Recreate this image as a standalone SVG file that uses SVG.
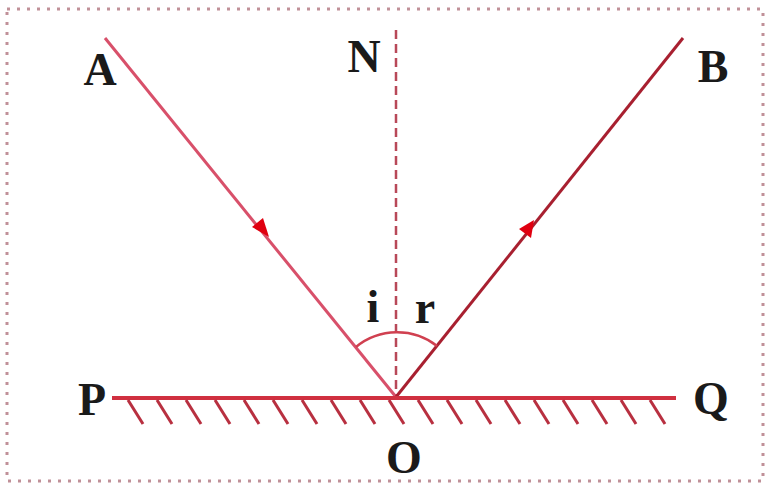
<svg xmlns="http://www.w3.org/2000/svg" width="765" height="486" viewBox="0 0 765 486">
<style>
.lbl{font-family:"Liberation Serif","Times New Roman",serif;font-weight:bold;font-size:46px;fill:#1a1a1a;text-anchor:middle}
.ray{stroke-width:3;fill:none}
.hatch{stroke:#b83040;stroke-width:3}
</style>
<rect width="765" height="486" fill="#ffffff"/>
<rect x="7" y="9" width="756" height="472" fill="none" stroke="#c09098" stroke-width="3" stroke-dasharray="3 7"/>
<g id="connectors">
<line id="normal" x1="396" y1="30" x2="396" y2="397" stroke="#b84858" stroke-width="2.5" stroke-dasharray="9 5"/>
<line id="incident" class="ray" x1="105" y1="38" x2="396" y2="397" stroke="#d8506a"/>
<line id="reflected" class="ray" x1="683" y1="38" x2="396" y2="397" stroke="#a82030"/>
<polygon points="269,237 252,227 263,218" fill="#e00010"/>
<polygon points="534,220 531,238 519,229" fill="#e00010"/>
<path d="M356,347 A65,65 0 0 1 437,346" fill="none" stroke="#d04050" stroke-width="2.5"/>
</g>
<g id="mirror">
<line x1="112" y1="398" x2="676" y2="398" stroke="#d03040" stroke-width="4"/>
<g class="hatch">
<line x1="128" y1="400" x2="143" y2="424"/>
<line x1="157" y1="400" x2="172" y2="424"/>
<line x1="186" y1="400" x2="201" y2="424"/>
<line x1="215" y1="400" x2="230" y2="424"/>
<line x1="244" y1="400" x2="259" y2="424"/>
<line x1="273" y1="400" x2="288" y2="424"/>
<line x1="302" y1="400" x2="317" y2="424"/>
<line x1="331" y1="400" x2="346" y2="424"/>
<line x1="360" y1="400" x2="375" y2="424"/>
<line x1="389" y1="400" x2="404" y2="424"/>
<line x1="418" y1="400" x2="433" y2="424"/>
<line x1="447" y1="400" x2="462" y2="424"/>
<line x1="476" y1="400" x2="491" y2="424"/>
<line x1="505" y1="400" x2="520" y2="424"/>
<line x1="534" y1="400" x2="549" y2="424"/>
<line x1="563" y1="400" x2="578" y2="424"/>
<line x1="592" y1="400" x2="607" y2="424"/>
<line x1="621" y1="400" x2="636" y2="424"/>
<line x1="650" y1="400" x2="665" y2="424"/>
</g>
</g>
<g id="A"><text class="lbl" x="100" y="85">A</text></g>
<g id="N"><text class="lbl" x="364" y="72">N</text></g>
<g id="B"><text class="lbl" x="713" y="82">B</text></g>
<g id="P"><text class="lbl" x="92" y="415">P</text></g>
<g id="Q"><text class="lbl" x="711" y="414">Q</text></g>
<g id="O"><text class="lbl" x="404" y="473">O</text></g>
<g id="i"><text class="lbl" x="373" y="322">i</text></g>
<g id="r"><text class="lbl" x="425" y="323">r</text></g>
</svg>
